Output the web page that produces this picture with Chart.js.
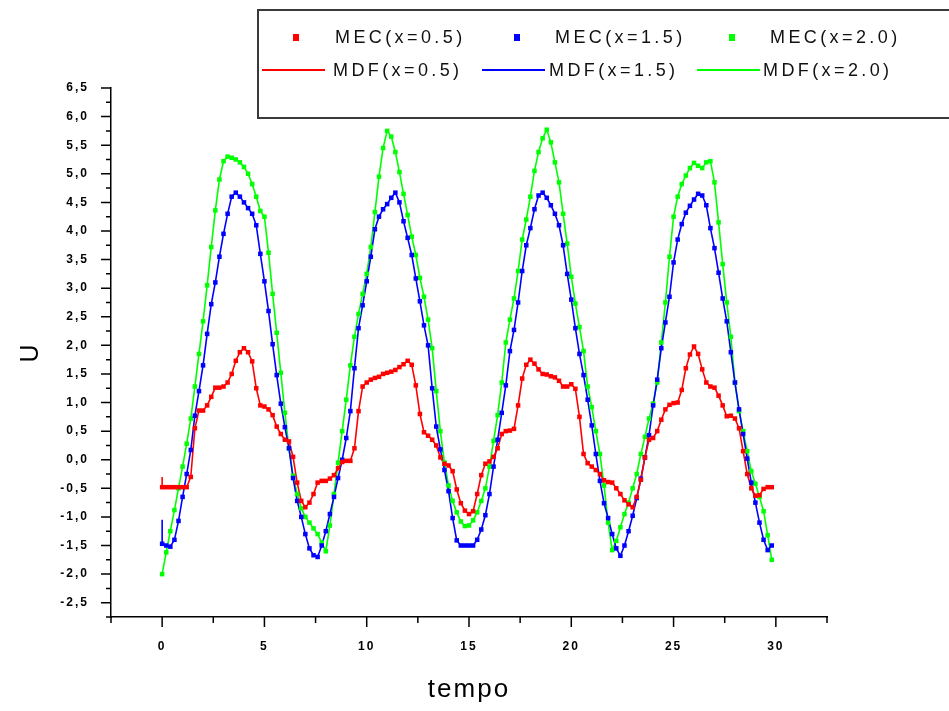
<!DOCTYPE html>
<html>
<head>
<meta charset="utf-8">
<script src="https://cdn.jsdelivr.net/npm/chart.js@4.4.1/dist/chart.umd.min.js"></script>
<style>
  html, body { margin:0; padding:0; background:#fff; }
</style>
</head>
<body>
<canvas id="c" width="949" height="711"></canvas>
<script>
// ====== dados ======
// tempo (passo 0.2)
const tempo = [
  0,0.2,0.4,0.6,0.8,1,1.2,1.4,1.6,1.8,
  2,2.2,2.4,2.6,2.8,3,3.2,3.4,3.6,3.8,
  4,4.2,4.4,4.6,4.8,5,5.2,5.4,5.6,5.8,
  6,6.2,6.4,6.6,6.8,7,7.2,7.4,7.6,7.8,
  8,8.2,8.4,8.6,8.8,9,9.2,9.4,9.6,9.8,
  10,10.2,10.4,10.6,10.8,11,11.2,11.4,11.6,11.8,
  12,12.2,12.4,12.6,12.8,13,13.2,13.4,13.6,13.8,
  14,14.2,14.4,14.6,14.8,15,15.2,15.4,15.6,15.8,
  16,16.2,16.4,16.6,16.8,17,17.2,17.4,17.6,17.8,
  18,18.2,18.4,18.6,18.8,19,19.2,19.4,19.6,19.8,
  20,20.2,20.4,20.6,20.8,21,21.2,21.4,21.6,21.8,
  22,22.2,22.4,22.6,22.8,23,23.2,23.4,23.6,23.8,
  24,24.2,24.4,24.6,24.8,25,25.2,25.4,25.6,25.8,
  26,26.2,26.4,26.6,26.8,27,27.2,27.4,27.6,27.8,
  28,28.2,28.4,28.6,28.8,29,29.2,29.4,29.6,29.8
];

// U em x=0.5
const u05 = [
  -0.48,-0.48,-0.48,-0.48,-0.48,-0.48,-0.48,-0.3,0.55,0.86,
  0.86,0.95,1.1,1.26,1.26,1.28,1.35,1.5,1.73,1.88,
  1.95,1.88,1.72,1.25,0.95,0.93,0.88,0.78,0.58,0.45,
  0.35,0.32,0.05,-0.4,-0.72,-0.83,-0.75,-0.6,-0.4,-0.37,
  -0.37,-0.33,-0.27,-0.15,-0.04,-0.02,-0.02,0.2,0.85,1.28,
  1.35,1.4,1.43,1.45,1.5,1.52,1.54,1.57,1.62,1.67,
  1.73,1.66,1.3,0.8,0.48,0.42,0.35,0.25,0.04,-0.07,
  -0.1,-0.2,-0.52,-0.76,-0.89,-0.95,-0.9,-0.6,-0.27,-0.07,
  -0.03,0.05,0.2,0.45,0.5,0.51,0.54,0.95,1.42,1.66,
  1.75,1.68,1.58,1.5,1.49,1.46,1.44,1.38,1.28,1.28,
  1.32,1.24,0.75,0.1,-0.06,-0.12,-0.18,-0.25,-0.36,-0.39,
  -0.4,-0.5,-0.6,-0.71,-0.78,-0.83,-0.65,-0.35,0.04,0.35,
  0.38,0.5,0.7,0.88,0.96,0.99,1.0,1.22,1.6,1.84,
  1.98,1.85,1.58,1.35,1.28,1.26,1.12,0.95,0.76,0.77,
  0.72,0.55,0.15,-0.25,-0.5,-0.63,-0.62,-0.51,-0.48,-0.48
];

// U em x=1.5
const u15 = [
  -1.47,-1.5,-1.52,-1.4,-1.07,-0.65,-0.25,0.17,0.77,1.2,
  1.65,2.2,2.72,3.1,3.55,3.95,4.3,4.6,4.67,4.6,
  4.5,4.4,4.3,4.1,3.6,3.12,2.6,2.02,1.48,0.98,
  0.57,0.2,-0.32,-0.72,-1.0,-1.3,-1.55,-1.67,-1.7,-1.5,
  -1.25,-0.95,-0.65,-0.32,0.0,0.38,0.85,1.6,2.3,2.7,
  3.12,3.55,4.03,4.25,4.38,4.47,4.58,4.67,4.5,4.17,
  3.88,3.58,3.17,2.77,2.35,2.0,1.25,0.58,0.18,-0.18,
  -0.55,-1.02,-1.41,-1.5,-1.5,-1.5,-1.5,-1.4,-1.22,-0.97,
  -0.6,-0.12,0.35,0.82,1.3,1.9,2.27,2.75,3.3,3.75,
  4.05,4.38,4.62,4.67,4.58,4.45,4.3,4.1,3.75,3.25,
  2.8,2.3,1.85,1.48,1.05,0.6,0.1,-0.37,-0.76,-1.02,
  -1.3,-1.55,-1.68,-1.5,-1.25,-0.98,-0.67,-0.33,0.04,0.43,
  0.95,1.4,1.95,2.4,2.85,3.45,3.85,4.12,4.32,4.44,
  4.55,4.65,4.62,4.45,4.05,3.7,3.27,2.82,2.42,1.88,
  1.35,0.88,0.45,0.02,-0.4,-0.75,-1.1,-1.4,-1.58,-1.5
];

// U em x=2.0
const u20 = [
  -2.0,-1.62,-1.25,-0.88,-0.5,-0.12,0.28,0.72,1.28,1.85,
  2.42,3.05,3.72,4.36,4.9,5.22,5.3,5.28,5.25,5.2,
  5.12,5.0,4.82,4.6,4.35,4.25,3.62,2.9,2.22,1.52,
  0.82,0.2,-0.28,-0.6,-0.85,-1.0,-1.1,-1.2,-1.3,-1.45,
  -1.6,-1.15,-0.6,-0.05,0.5,1.05,1.65,2.15,2.55,2.9,
  3.25,3.72,4.33,4.95,5.45,5.75,5.65,5.38,5.03,4.65,
  4.28,3.9,3.58,3.18,2.85,2.45,1.95,1.2,0.5,-0.05,
  -0.45,-0.72,-0.92,-1.08,-1.16,-1.15,-1.06,-0.92,-0.72,-0.5,
  -0.12,0.33,0.78,1.35,2.05,2.45,2.82,3.3,3.85,4.2,
  4.6,5.05,5.38,5.62,5.77,5.55,5.2,4.85,4.3,3.78,
  3.2,2.73,2.32,1.9,1.28,0.92,0.5,0.1,-0.45,-1.1,
  -1.58,-1.42,-1.18,-0.95,-0.75,-0.5,-0.25,0.1,0.4,0.72,
  0.98,1.35,2.05,2.75,3.55,4.25,4.6,4.82,4.97,5.1,
  5.19,5.14,5.1,5.2,5.22,4.85,4.15,3.42,2.75,2.15,
  1.35,0.85,0.5,0.15,-0.2,-0.42,-0.65,-0.9,-1.32,-1.75
];

// primeiro valor das curvas MDF em t=0 (pequeno salto vertical)
const mdfStart = [-0.3, -1.05, -2.0];

const posicoes = ['x=0.5', 'x=1.5', 'x=2.0'];
const cores = ['#ff0000', '#0000ff', '#00ff00'];
const series = [u05, u15, u20];

const FONT = '"Liberation Sans", Arial, sans-serif';

function pts(u){ return tempo.map((t, k) => ({ x:t, y:u[k] })); }

// MEC = marcadores, MDF = linhas
const datasets = [];
series.forEach((u, i) => {
  datasets.push({
    label: 'MEC(' + posicoes[i] + ')', data: pts(u), showLine:false,
    pointStyle:'rect', pointRadius:3.2, pointBorderWidth:0,
    backgroundColor: cores[i], borderColor: cores[i]
  });
});
series.forEach((u, i) => {
  datasets.push({
    label: 'MDF(' + posicoes[i] + ')', data: [{ x:0, y:mdfStart[i] }, ...pts(u)],
    pointRadius:0, borderWidth:1.6, borderColor: cores[i], backgroundColor: cores[i], tension:0
  });
});

// espaçamento entre letras (fonte do gráfico original é espaçada)
const spacing = {
  id:'spacing',
  beforeUpdate(chart){ chart.ctx.letterSpacing = '2px'; },
  beforeDraw(chart){ chart.ctx.letterSpacing = '2px'; }
};

// marcas dos eixos: grandes nos rótulos, pequenas no meio
const axisTicks = {
  id:'axisTicks',
  afterDraw(chart){
    const { ctx, scales:{ x, y } } = chart;
    ctx.save();
    ctx.strokeStyle = '#000';
    ctx.lineWidth = 1.5;
    ctx.beginPath();
    x.ticks.forEach(t => {
      const px = x.getPixelForValue(t.value);
      const len = (t.value % 5 === 0) ? 10 : 6;
      ctx.moveTo(px, x.top); ctx.lineTo(px, x.top + len);
    });
    y.ticks.forEach(t => {
      const py = y.getPixelForValue(t.value);
      const h = t.value * 2;
      const len = Math.abs(h - Math.round(h)) < 1e-6 ? 10 : 5;
      ctx.moveTo(y.right, py); ctx.lineTo(y.right - len, py);
    });
    ctx.stroke();
    ctx.restore();
  }
};

// legenda em caixa no canto superior direito
const legendBox = {
  id:'legendBox',
  afterDraw(chart){
    const ctx = chart.ctx, ds = chart.data.datasets;
    ctx.save();
    ctx.fillStyle = '#fff';
    ctx.fillRect(258, 10, 700, 108);
    ctx.strokeStyle = '#3a3a3a'; ctx.lineWidth = 2;
    ctx.strokeRect(258, 10, 700, 108);
    ctx.font = '18px ' + FONT;
    ctx.letterSpacing = '3.4px';
    ctx.textBaseline = 'middle'; ctx.textAlign = 'left';
    const mx = [296, 517, 732], tx1 = [335, 555, 770];
    const lx = [262, 482, 697], tx2 = [333, 549, 763];
    for (let i = 0; i < 3; i++){
      const mec = ds[i], mdf = ds[i + 3];
      ctx.fillStyle = mec.backgroundColor;
      ctx.fillRect(mx[i] - 3, 34, 6, 7);
      ctx.fillStyle = '#111';
      ctx.fillText(mec.label, tx1[i], 38);
      ctx.strokeStyle = mdf.borderColor; ctx.lineWidth = 2;
      ctx.beginPath(); ctx.moveTo(lx[i], 70); ctx.lineTo(lx[i] + 63, 70); ctx.stroke();
      ctx.fillStyle = '#111';
      ctx.fillText(mdf.label, tx2[i], 71);
    }
    ctx.restore();
    ctx.letterSpacing = '0px';
  }
};

new Chart(document.getElementById('c').getContext('2d'), {
  type:'line',
  data:{ datasets },
  options:{
    responsive:false,
    animation:false,
    layout:{ padding:{ top:88, right:122, left:0, bottom:0 } },
    plugins:{ legend:{ display:false }, tooltip:{ enabled:false } },
    scales:{
      x:{
        type:'linear', min:-2.5, max:32.5,
        afterFit(s){ s.height = 94; },
        grid:{ display:false },
        border:{ display:true, color:'#000', width:1.5 },
        ticks:{
          stepSize:2.5, autoSkip:false, maxRotation:0, padding:14, color:'#000',
          font:{ family:FONT, size:12, weight:'bold' },
          callback:(v) => (v % 5 === 0 ? String(v) : '')
        },
        title:{ display:true, text:'tempo', color:'#000', font:{ family:FONT, size:26 }, padding:{ top:0, bottom:6 } }
      },
      y:{
        type:'linear', min:-2.75, max:6.5,
        afterFit(s){ s.width = 111; },
        grid:{ display:false },
        border:{ display:true, color:'#000', width:1.5 },
        ticks:{
          stepSize:0.25, autoSkip:false, padding:14, color:'#000',
          font:{ family:FONT, size:12, weight:'bold' },
          callback:(v) => {
            const h = v * 2;
            if (Math.abs(h - Math.round(h)) > 1e-6) return '';
            return (Math.round(h) / 2).toFixed(1).replace('.', ',');
          }
        },
        title:{ display:true, text:'U', color:'#000', font:{ family:FONT, size:25 }, padding:{ top:16, bottom:0 } }
      }
    }
  },
  plugins:[spacing, axisTicks, legendBox]
});
</script>
</body>
</html>
